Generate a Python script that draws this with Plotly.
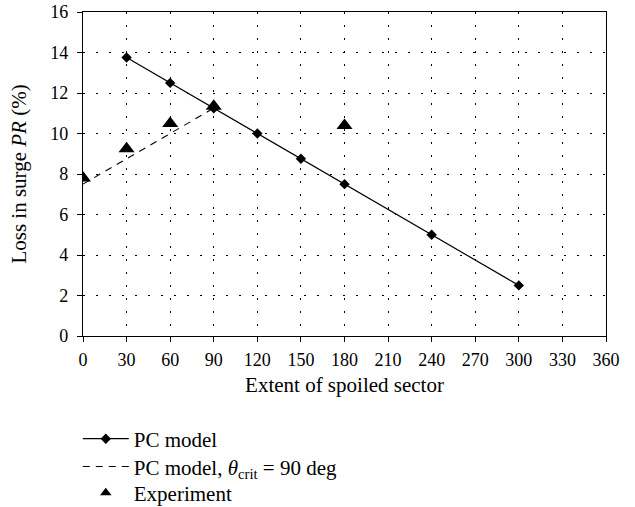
import plotly.graph_objects as go

pc_x = [30, 60, 90, 120, 150, 180, 240, 300]
pc_y = [13.75, 12.5, 11.25, 10.0, 8.75, 7.5, 5.0, 2.5]

crit_x = [0, 90]
crit_y = [7.5, 11.25]

exp_x = [0, 30, 60, 90, 180]
exp_y = [7.8, 9.25, 10.5, 11.35, 10.4]

x_ticks = list(range(0, 361, 30))
y_ticks = list(range(0, 17, 2))

FONT = "Liberation Serif"
TICK_FS = 18
TITLE_FS = 21
LEG_FS = 21

fig = go.Figure()
fig.add_trace(go.Scatter(
    x=pc_x, y=pc_y, mode="lines+markers", name="PC model",
    line=dict(color="black", width=1.2),
    marker=dict(symbol="diamond", size=8, color="black"),
    legend="legend",
))
fig.add_trace(go.Scatter(
    x=crit_x, y=crit_y, mode="lines",
    name="PC model, <i>θ</i><sub>crit</sub> = 90 deg",
    line=dict(color="black", width=1.1, dash="7px,6px"),
    legend="legend2",
))
fig.add_trace(go.Scatter(
    x=exp_x, y=exp_y, mode="markers", name="Experiment",
    marker=dict(symbol="triangle-up", size=14, color="black"),
    showlegend=False,
))
# legend entry for the experiment with the smaller legend symbol
fig.add_trace(go.Scatter(
    x=[None], y=[None], mode="markers", name="Experiment",
    marker=dict(symbol="triangle-up", size=10, color="black"),
    legend="legend3",
))

axis_common = dict(
    showline=True, linecolor="black", linewidth=1.2, mirror=True,
    ticks="outside", ticklen=5, tickcolor="black", tickwidth=1,
    showgrid=True, gridcolor="black", gridwidth=1, griddash="2px,11px",
    zeroline=False, automargin=False,
    tickfont=dict(family=FONT, size=TICK_FS, color="black"),
)

fig.update_xaxes(
    range=[0, 360], tickvals=x_ticks, ticklabelstandoff=2,
    title=dict(text="Extent of spoiled sector", font=dict(family=FONT, size=TITLE_FS, color="black"), standoff=8),
    **axis_common,
)
fig.update_yaxes(
    range=[0, 16], tickvals=y_ticks, ticklabelstandoff=5,
    title=dict(text="Loss in surge <i>PR</i> (%)", font=dict(family=FONT, size=TITLE_FS, color="black"), standoff=17),
    **axis_common,
)

leg_common = dict(
    xanchor="left", yanchor="middle", x=-0.010,
    orientation="v", bgcolor="rgba(0,0,0,0)",
    font=dict(family=FONT, size=LEG_FS, color="black"),
    tracegroupgap=0, itemwidth=46,
)

fig.update_layout(
    width=635, height=507,
    margin=dict(l=83, r=29, t=12, b=171, autoexpand=False),
    plot_bgcolor="white", paper_bgcolor="white",
    font=dict(family=FONT, size=LEG_FS, color="black"),
    legend=dict(y=-0.318, **leg_common),
    legend2=dict(y=-0.404, **leg_common),
    legend3=dict(y=-0.485, **leg_common),
)

fig.write_html("out.html")
